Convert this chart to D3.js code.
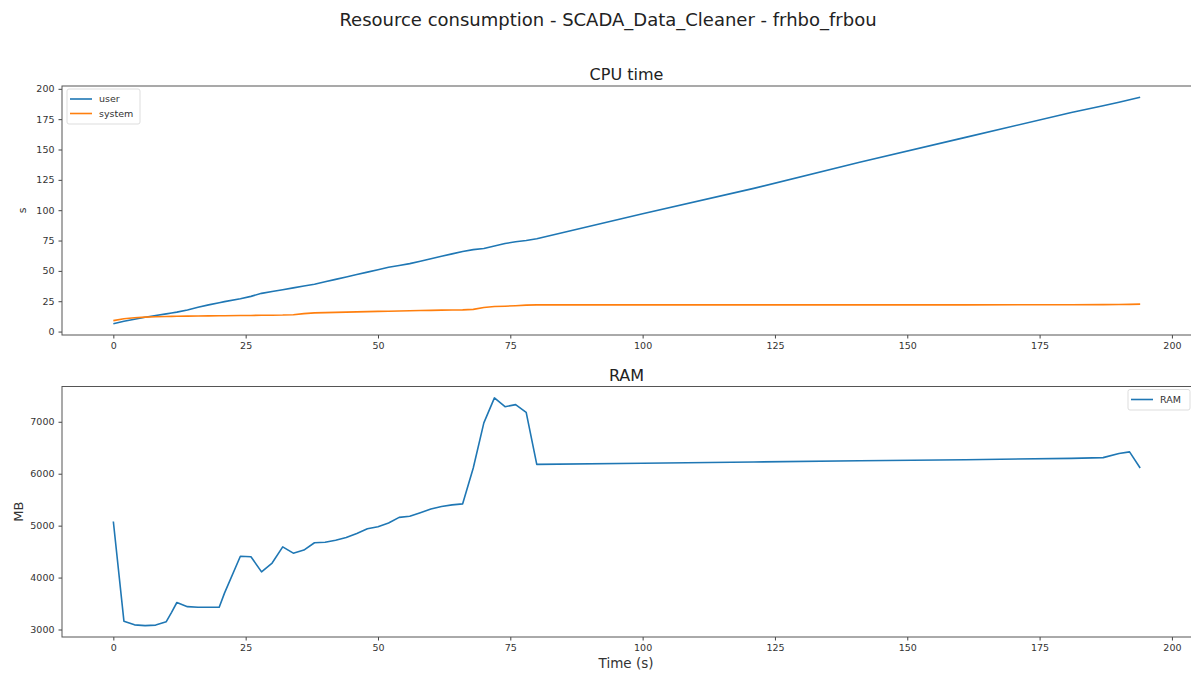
<!DOCTYPE html>
<html>
<head>
<meta charset="utf-8">
<script src="https://cdn.jsdelivr.net/npm/d3@7/dist/d3.min.js"></script>
<style>
  html, body { margin: 0; padding: 0; background: #fff; }
  svg { display: block; font-family: "DejaVu Sans", sans-serif; }
</style>
</head>
<body>
<svg id="chart" width="1191" height="675"></svg>
<script>
// Sample times (s)
const time = [0, 2, 4, 6, 8, 10, 11, 12, 14, 16, 18, 20, 21, 24, 26, 28, 30, 32, 34, 36, 38, 40,
  42, 44, 46, 48, 50, 52, 54, 56, 58, 60, 62, 64, 66, 68, 70, 72, 74, 76, 78, 80,
  100, 121, 141, 161, 181, 187, 190, 192, 194];

// CPU time (s)
const cpuUser = [6.5, 8.5, 10.2, 11.8, 13.2, 14.6, 15.3, 16.0, 17.8, 20.0, 22.0, 23.8, 24.7, 27.0,
  29.0, 31.5, 33.0, 34.5, 36.0, 37.5, 39.0, 41.0, 43.0, 45.0, 47.0, 49.0, 51.0, 53.0, 54.5,
  56.0, 58.0, 60.0, 62.0, 64.0, 66.0, 67.5, 68.5, 70.5, 72.5, 74.0, 75.0, 76.5,
  97.0, 118.0, 139.5, 160.0, 180.5, 186.0, 189.0, 191.0, 193.0];
const cpuSystem = [9.0, 10.6, 11.4, 11.9, 12.2, 12.4, 12.5, 12.6, 12.7, 12.8, 12.9, 13.0, 13.0, 13.2,
  13.3, 13.4, 13.5, 13.6, 13.9, 14.8, 15.4, 15.6, 15.8, 16.0, 16.2, 16.4, 16.6, 16.8, 17.0,
  17.2, 17.4, 17.5, 17.7, 17.8, 17.9, 18.3, 19.8, 20.6, 20.9, 21.3, 21.8, 22.0,
  22.0, 22.0, 22.0, 22.0, 22.1, 22.2, 22.3, 22.4, 22.6];

// Resident memory (MB)
const ram = [5080, 3160, 3090, 3075, 3085, 3150, 3330, 3520, 3440, 3430, 3430, 3430, 3700, 4410,
  4400, 4110, 4280, 4590, 4470, 4530, 4670, 4680, 4720, 4770, 4850, 4940, 4980, 5050, 5160,
  5180, 5250, 5320, 5370, 5400, 5420, 6110, 6980, 7460, 7290, 7330, 7180, 6180,
  6200, 6225, 6250, 6270, 6295, 6310, 6390, 6420, 6110];

// Axis ticks
const xTicks = [0, 25, 50, 75, 100, 125, 150, 175, 200];
const cpuTicks = [0, 25, 50, 75, 100, 125, 150, 175, 200];
const ramTicks = [3000, 4000, 5000, 6000, 7000];

const colUser = "#1f77b4", colSystem = "#ff7f0e";

const svg = d3.select("#chart");

// Padded extent, 5% on each side
function padded(values) {
  const [lo, hi] = d3.extent(values);
  const m = (hi - lo) * 0.05;
  return [lo - m, hi + m];
}

const left = 62, right = 1191.5;
const x = d3.scaleLinear().domain(padded(time)).range([left, right]);

const panels = [
  { top: 86, bottom: 335, title: "CPU time", ylabel: "s", ylabelSize: 11, ylabelX: 22,
    ticks: cpuTicks, domain: padded(cpuUser.concat(cpuSystem)),
    series: [{ name: "user", values: cpuUser, color: colUser },
             { name: "system", values: cpuSystem, color: colSystem }],
    legend: "left" },
  { top: 386.5, bottom: 637, title: "RAM", ylabel: "MB", ylabelSize: 13, ylabelX: 18,
    ticks: ramTicks, domain: padded(ram),
    series: [{ name: "RAM", values: ram, color: colUser }],
    legend: "right" }
];

// Figure title
svg.append("text")
  .attr("x", 608).attr("y", 26)
  .attr("text-anchor", "middle")
  .attr("font-size", 18).attr("fill", "#222")
  .text("Resource consumption - SCADA_Data_Cleaner - frhbo_frbou");

panels.forEach(p => {
  const y = d3.scaleLinear().domain(p.domain).range([p.bottom, p.top]);
  const g = svg.append("g");

  // Axes
  const xa = g.append("g").attr("transform", `translate(0,${p.bottom})`)
    .call(d3.axisBottom(x).tickValues(xTicks).tickSize(3.5).tickPadding(4).tickFormat(d3.format("d")));
  const ya = g.append("g").attr("transform", `translate(${left},0)`)
    .call(d3.axisLeft(y).tickValues(p.ticks).tickSize(3.5).tickPadding(4).tickFormat(d3.format("d")));
  [xa, ya].forEach(a => {
    a.select(".domain").remove();
    a.selectAll("line").attr("stroke", "#444");
    a.selectAll("text").attr("font-size", 9.5).attr("fill", "#333").attr("font-family", "DejaVu Sans, sans-serif");
  });

  // Frame
  g.append("rect")
    .attr("x", left).attr("y", p.top)
    .attr("width", right - left).attr("height", p.bottom - p.top)
    .attr("fill", "none").attr("stroke", "#555").attr("stroke-width", 1);

  // Panel title
  g.append("text")
    .attr("x", (left + 1191) / 2).attr("y", p.top - 6)
    .attr("text-anchor", "middle").attr("font-size", 16).attr("fill", "#222")
    .text(p.title);

  // Y label
  g.append("text")
    .attr("transform", `translate(${p.ylabelX},${(p.top + p.bottom) / 2}) rotate(-90)`)
    .attr("text-anchor", "middle").attr("dy", "0.35em")
    .attr("font-size", p.ylabelSize).attr("fill", "#333")
    .text(p.ylabel);

  // Lines
  const line = d3.line().x((d, i) => x(time[i])).y(d => y(d));
  p.series.forEach(s => {
    g.append("path")
      .datum(s.values)
      .attr("d", line)
      .attr("fill", "none")
      .attr("stroke", s.color)
      .attr("stroke-width", 1.6)
      .attr("stroke-linejoin", "round");
  });

  // Legend
  const rowH = 14.5;
  const boxW = p.legend === "left" ? 73 : 62;
  const boxH = 6 + rowH * p.series.length;
  const bx = p.legend === "left" ? left + 5 : 1128;
  const by = p.top + 3;
  const lg = g.append("g").attr("transform", `translate(${bx},${by})`);
  lg.append("rect")
    .attr("width", boxW).attr("height", boxH).attr("rx", 2)
    .attr("fill", "#fff").attr("fill-opacity", 0.8)
    .attr("stroke", "#ddd");
  p.series.forEach((s, i) => {
    const cy = 10 + i * rowH;
    lg.append("line").attr("x1", 3).attr("x2", 25).attr("y1", cy).attr("y2", cy)
      .attr("stroke", s.color).attr("stroke-width", 1.6);
    lg.append("text").attr("x", 32).attr("y", cy).attr("dy", "0.35em")
      .attr("font-size", 9.5).attr("fill", "#333").text(s.name);
  });
});

// X axis label
svg.append("text")
  .attr("x", 626).attr("y", 668)
  .attr("text-anchor", "middle").attr("font-size", 13.5).attr("fill", "#333")
  .text("Time (s)");
</script>
</body>
</html>
